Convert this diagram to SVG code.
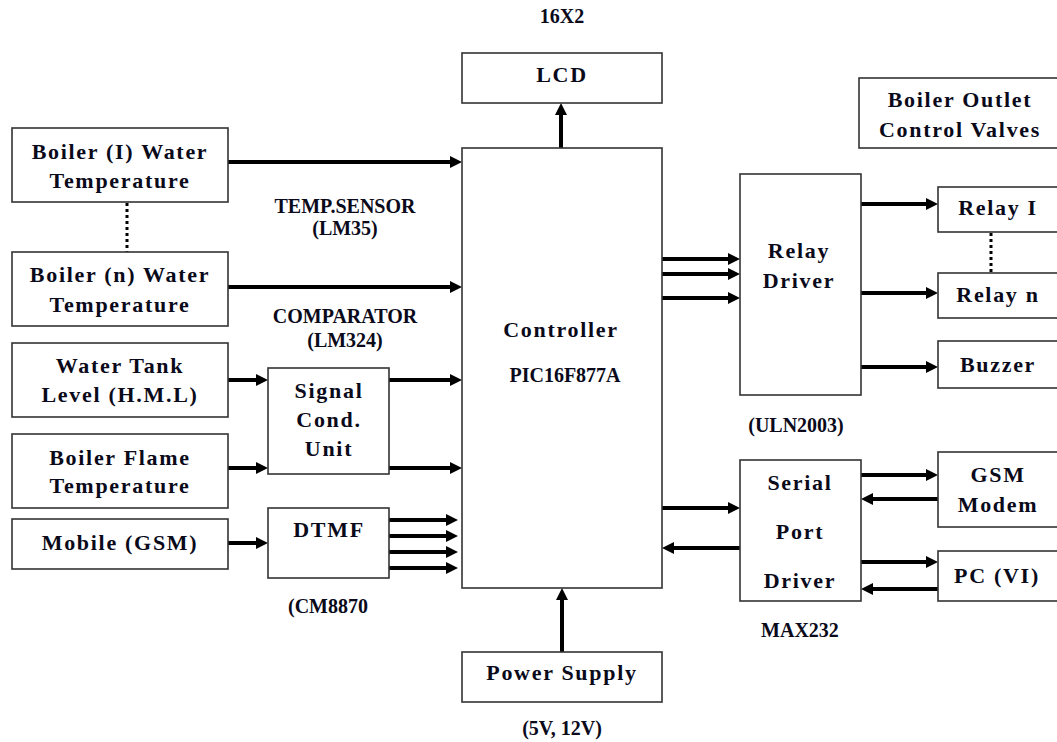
<svg xmlns="http://www.w3.org/2000/svg" width="1057" height="742" viewBox="0 0 1057 742">
<defs>
<marker id="ah" markerUnits="userSpaceOnUse" markerWidth="12" markerHeight="12" refX="4" refY="6" orient="auto">
<path d="M0,0 L12,6 L0,12 z" fill="#000"/>
</marker>
</defs>
<style>
.box{fill:#fff;stroke:#333;stroke-width:1.6}
.t{font-family:"Liberation Serif","Times New Roman",serif;font-weight:bold;font-size:22px;letter-spacing:1.7px;text-anchor:middle;fill:#0a0a1a}
.l{font-family:"Liberation Serif","Times New Roman",serif;font-weight:bold;font-size:20px;text-anchor:middle;fill:#0a0a1a}
.a{stroke:#000;stroke-width:4;fill:none;marker-end:url(#ah)}
.d{stroke:#000;stroke-width:3;stroke-dasharray:3 3;fill:none}
</style>
<rect width="1057" height="742" fill="#fff"/>
<g id="connectors">
<line class="a" x1="228" y1="162" x2="454" y2="162"/>
<line class="a" x1="228" y1="287" x2="454" y2="287"/>
<line class="a" x1="228" y1="380" x2="260" y2="380"/>
<line class="a" x1="228" y1="468" x2="260" y2="468"/>
<line class="a" x1="389" y1="380" x2="454" y2="380"/>
<line class="a" x1="389" y1="468" x2="454" y2="468"/>
<line class="a" x1="228" y1="543" x2="260" y2="543"/>
<line class="a" x1="389" y1="520" x2="450" y2="520"/>
<line class="a" x1="389" y1="536" x2="450" y2="536"/>
<line class="a" x1="389" y1="552" x2="450" y2="552"/>
<line class="a" x1="389" y1="568" x2="450" y2="568"/>
<line class="a" x1="561" y1="148" x2="561" y2="111"/>
<line class="a" x1="562" y1="652" x2="562" y2="596"/>
<line class="a" x1="662" y1="259" x2="732" y2="259"/>
<line class="a" x1="662" y1="274" x2="732" y2="274"/>
<line class="a" x1="662" y1="298" x2="732" y2="298"/>
<line class="a" x1="861" y1="204" x2="930" y2="204"/>
<line class="a" x1="861" y1="293" x2="930" y2="293"/>
<line class="a" x1="861" y1="367" x2="930" y2="367"/>
<line class="a" x1="662" y1="508" x2="732" y2="508"/>
<line class="a" x1="740" y1="548" x2="670" y2="548"/>
<line class="a" x1="861" y1="475" x2="930" y2="475"/>
<line class="a" x1="938" y1="499" x2="869" y2="499"/>
<line class="a" x1="861" y1="562" x2="930" y2="562"/>
<line class="a" x1="938" y1="589" x2="869" y2="589"/>
<line class="d" x1="127" y1="203" x2="127" y2="252"/>
<line class="d" x1="991" y1="233" x2="991" y2="273"/>
</g>
<g id="boiler1"><rect class="box" x="12" y="128" width="216" height="74"/><text class="t" x="120" y="159">Boiler (I) Water</text><text class="t" x="120" y="188">Temperature</text></g>
<g id="boilern"><rect class="box" x="12" y="252" width="216" height="74"/><text class="t" x="120" y="282">Boiler (n) Water</text><text class="t" x="120" y="312">Temperature</text></g>
<g id="watertank"><rect class="box" x="12" y="343" width="216" height="74"/><text class="t" x="120" y="373">Water Tank</text><text class="t" x="120" y="402">Level (H.M.L)</text></g>
<g id="flame"><rect class="box" x="12" y="434" width="216" height="74"/><text class="t" x="120" y="465">Boiler Flame</text><text class="t" x="120" y="493">Temperature</text></g>
<g id="mobile"><rect class="box" x="12" y="519" width="216" height="50"/><text class="t" x="120" y="550">Mobile (GSM)</text></g>
<g id="signal"><rect class="box" x="268" y="368" width="121" height="106"/><text class="t" x="329" y="398">Signal</text><text class="t" x="329" y="427">Cond.</text><text class="t" x="329" y="456">Unit</text></g>
<g id="dtmf"><rect class="box" x="268" y="508" width="121" height="70"/><text class="t" x="329" y="537">DTMF</text></g>
<g id="labels">
<text class="l" x="345" y="213">TEMP.SENSOR</text>
<text class="l" x="345" y="235">(LM35)</text>
<text class="l" x="345" y="323">COMPARATOR</text>
<text class="l" x="345" y="347">(LM324)</text>
<text class="l" x="328" y="613">(CM8870</text>
<text class="l" x="562" y="23">16X2</text>
<text class="l" x="796" y="432">(ULN2003)</text>
<text class="l" x="800" y="637">MAX232</text>
<text class="l" x="562" y="735">(5V, 12V)</text>
</g>
<g id="lcd"><rect class="box" x="462" y="53" width="200" height="50"/><text class="t" x="562" y="82">LCD</text></g>
<g id="controller"><rect class="box" x="462" y="148" width="200" height="440"/><text class="t" x="561" y="337">Controller</text><text class="l" x="565" y="382">PIC16F877A</text></g>
<g id="power"><rect class="box" x="462" y="652" width="200" height="50"/><text class="t" x="562" y="680">Power Supply</text></g>
<g id="outlet"><rect class="box" x="859" y="78" width="220" height="70"/><text class="t" x="960" y="107">Boiler Outlet</text><text class="t" x="960" y="137">Control Valves</text></g>
<g id="relaydriver"><rect class="box" x="740" y="174" width="121" height="221"/><text class="t" x="799" y="258">Relay</text><text class="t" x="799" y="288">Driver</text></g>
<g id="relay1"><rect class="box" x="938" y="187" width="140" height="45"/><text class="t" x="998" y="215">Relay I</text></g>
<g id="relayn"><rect class="box" x="938" y="273" width="140" height="45"/><text class="t" x="998" y="302">Relay n</text></g>
<g id="buzzer"><rect class="box" x="938" y="341" width="140" height="47"/><text class="t" x="998" y="372">Buzzer</text></g>
<g id="serial"><rect class="box" x="740" y="460" width="121" height="141"/><text class="t" x="800" y="490">Serial</text><text class="t" x="800" y="539">Port</text><text class="t" x="800" y="588">Driver</text></g>
<g id="gsm"><rect class="box" x="938" y="452" width="140" height="75"/><text class="t" x="998" y="482">GSM</text><text class="t" x="998" y="512">Modem</text></g>
<g id="pc"><rect class="box" x="938" y="551" width="140" height="50"/><text class="t" x="997" y="583">PC (VI)</text></g>
</svg>
